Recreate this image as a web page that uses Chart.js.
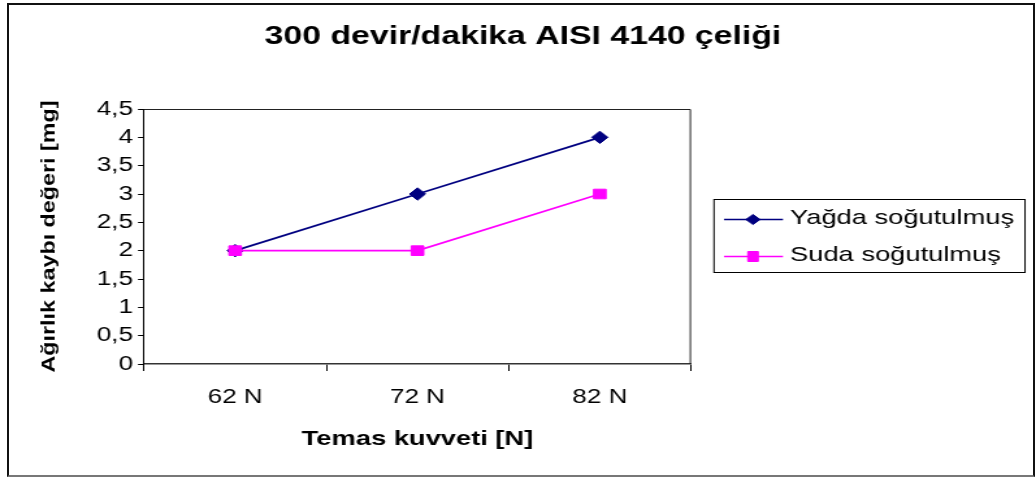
<!DOCTYPE html>
<html lang="tr">
<head>
<meta charset="utf-8">
<title>300 devir/dakika AISI 4140 çeliği</title>
<script src="https://cdn.jsdelivr.net/npm/chart.js@4.4.1/dist/chart.umd.min.js"></script>
<style>
  html, body { margin: 0; padding: 0; background: #fff; overflow: hidden; }
  #wrap { position: relative; width: 1036px; height: 477px; }
  #chart { display: block; width: 1036px !important; height: 477px !important; }
  #frame {
    position: absolute; left: 7px; top: 3px; width: 1028px; height: 474px;
    box-sizing: border-box; border: 2px solid #111; border-bottom-color: #777;
    pointer-events: none;
  }
</style>
</head>
<body>
<div id="wrap">
  <canvas id="chart" width="797" height="477"></canvas>
  <div id="frame"></div>
</div>
<script>
// Veriler
const categories = ['62 N', '72 N', '82 N'];
const seriesNames = ['Yağda soğutulmuş', 'Suda soğutulmuş'];
const yagdaValues = [2, 3, 4];
const sudaValues = [2, 2, 3];
const yMin = 0;
const yMax = 4.5;
const yStep = 0.5;

const chartTitle = '300 devir/dakika AISI 4140 çeliği';
const xTitle = 'Temas kuvveti [N]';
const yTitle = 'Ağırlık kaybı değeri [mg]';

// the original picture is stretched sideways (~1.3x), so the canvas is drawn
// narrower and widened by CSS
const SX = 1036 / 797;
const FONT = "'Liberation Sans', Arial, sans-serif";

const colors = {
    yagda: '#000080',
    suda: '#ff00ff'
};

// small marker shapes for the legend
function drawMarker(ctx, style, x, y, color) {
    ctx.fillStyle = color;
    ctx.strokeStyle = color;
    ctx.lineWidth = 1;
    ctx.beginPath();
    if (style === 'rectRot') {
        ctx.moveTo(x - 5.5, y);
        ctx.lineTo(x, y - 5);
        ctx.lineTo(x + 5.5, y);
        ctx.lineTo(x, y + 5);
        ctx.closePath();
    } else {
        ctx.rect(x - 4, y - 5, 8, 10);
    }
    ctx.fill();
    ctx.stroke();
}

// title, y axis title, plot frame and legend box (Excel look)
const excelDecor = {
    id: 'excelDecor',
    beforeDatasetsDraw(chart) {
        const { ctx, chartArea: a } = chart;
        ctx.save();
        ctx.strokeStyle = '#222';
        ctx.lineWidth = 1;
        ctx.beginPath();
        ctx.moveTo(a.left, a.top + 0.5);
        ctx.lineTo(a.right - 0.5, a.top + 0.5);
        ctx.lineTo(a.right - 0.5, a.bottom);
        ctx.stroke();
        ctx.restore();
    },
    afterDraw(chart) {
        const { ctx, chartArea: a } = chart;
        ctx.save();

        // chart title
        ctx.fillStyle = '#000';
        ctx.font = `bold 26px ${FONT}`;
        ctx.textAlign = 'center';
        ctx.textBaseline = 'middle';
        ctx.fillText(chartTitle, 523 / SX, 36.5);

        // y axis title, rotated
        ctx.save();
        ctx.translate(49 / SX, (a.top + a.bottom) / 2);
        ctx.rotate(-Math.PI / 2);
        ctx.font = `bold 18px ${FONT}`;
        const w = ctx.measureText(yTitle).width;
        ctx.scale(272 / w, 18.5 / (18 * SX));
        ctx.fillText(yTitle, 0, 0);
        ctx.restore();

        // legend
        ctx.strokeStyle = '#000';
        ctx.lineWidth = 1;
        ctx.strokeRect(714 / SX, 199.5, (1025 - 714) / SX, 73);
        const rowY = [219.5, 256.5];
        chart.data.datasets.forEach((ds, i) => {
            const y = rowY[i];
            ctx.strokeStyle = ds.borderColor;
            ctx.lineWidth = 1.6;
            ctx.beginPath();
            ctx.moveTo(724 / SX, y);
            ctx.lineTo(783 / SX, y);
            ctx.stroke();
            drawMarker(ctx, ds.pointStyle, 753 / SX, y, ds.borderColor);

            ctx.fillStyle = '#000';
            ctx.font = `21px ${FONT}`;
            ctx.textAlign = 'left';
            ctx.textBaseline = 'middle';
            ctx.fillText(ds.label, 790 / SX, y - 1.5);
        });

        ctx.restore();
    }
};

const ctx = document.getElementById('chart').getContext('2d');

new Chart(ctx, {
    type: 'line',
    data: {
        labels: categories,
        datasets: [
            {
                label: seriesNames[0],
                data: yagdaValues,
                borderColor: colors.yagda,
                backgroundColor: colors.yagda,
                borderWidth: 1.8,
                pointStyle: 'rectRot',
                pointRadius: 6.2,
                pointBorderWidth: 1,
                tension: 0,
                order: 1
            },
            {
                label: seriesNames[1],
                data: sudaValues,
                borderColor: colors.suda,
                backgroundColor: colors.suda,
                borderWidth: 1.8,
                pointStyle: 'rect',
                pointRadius: 6.8,
                pointBorderWidth: 1,
                tension: 0,
                order: 0 // square drawn on top
            }
        ]
    },
    options: {
        responsive: false,
        animation: false,
        events: [],
        layout: {
            padding: { left: 8, top: 109, right: 797 - 691 / SX, bottom: 10 }
        },
        plugins: {
            legend: { display: false },
            tooltip: { enabled: false },
            title: { display: false }
        },
        scales: {
            x: {
                type: 'category',
                offset: true,
                afterFit: (scale) => { scale.height = 467 - 364; },
                grid: {
                    offset: true,
                    drawOnChartArea: false,
                    drawTicks: true,
                    tickLength: 7,
                    color: '#000'
                },
                border: { display: true, color: '#333', width: 1.6 },
                ticks: {
                    color: '#000',
                    padding: 14,
                    font: { family: FONT, size: 20 }
                },
                title: {
                    display: true,
                    text: xTitle,
                    color: '#000',
                    font: { family: FONT, size: 21, weight: 'bold' },
                    padding: { top: 0, bottom: 15 }
                }
            },
            y: {
                min: yMin,
                max: yMax,
                afterFit: (scale) => { scale.width = 144 / SX - 8; },
                grid: {
                    drawOnChartArea: false,
                    drawTicks: true,
                    tickLength: 4.6,
                    color: '#000'
                },
                border: { display: true, color: '#000', width: 1 },
                ticks: {
                    stepSize: yStep,
                    color: '#000',
                    padding: 3.9,
                    font: { family: FONT, size: 20 },
                    callback: (v) => String(v).replace('.', ',')
                }
            }
        }
    },
    plugins: [excelDecor]
});
</script>
</body>
</html>
